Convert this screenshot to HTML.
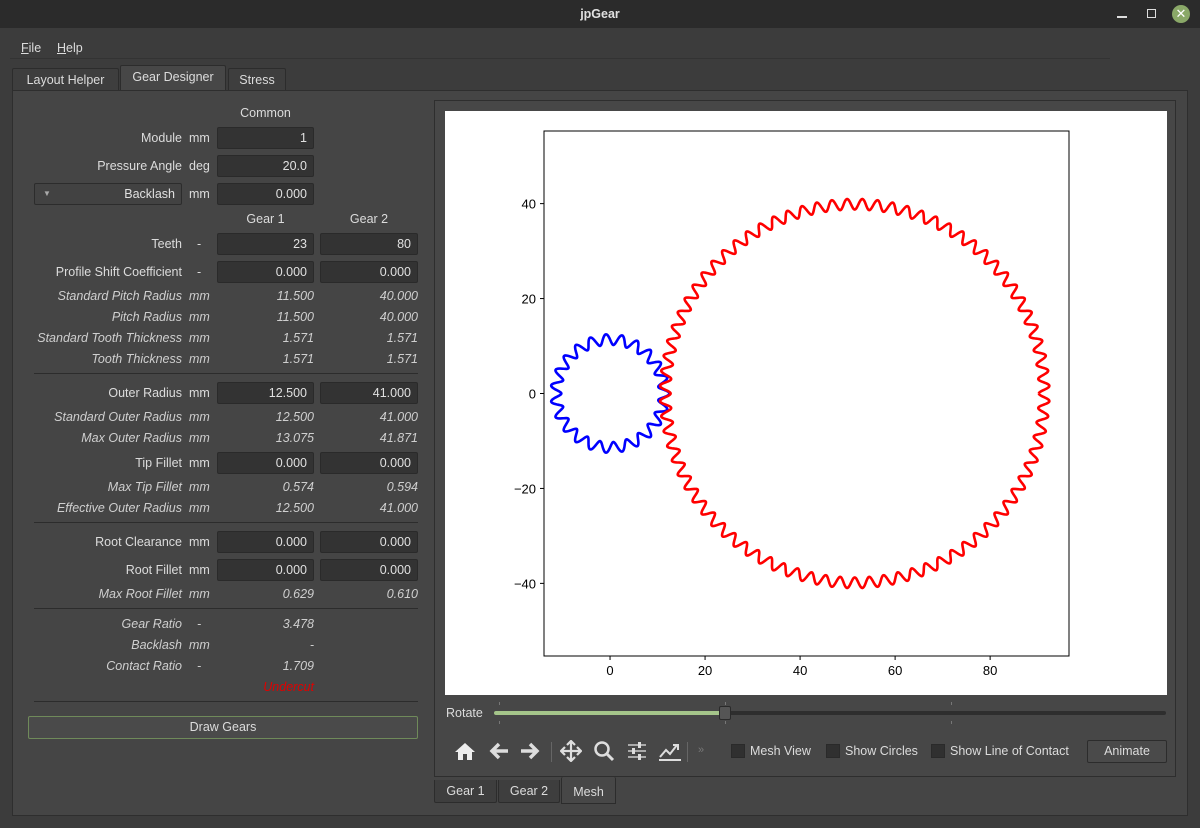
<!DOCTYPE html>
<html><head><meta charset="utf-8">
<style>
*{box-sizing:border-box;margin:0;padding:0}
body{width:1200px;height:828px;background:#3c3c3c;font-family:"Liberation Sans",sans-serif;font-size:12.5px;color:#dcdcdc;position:relative;overflow:hidden}
.a{position:absolute}
.lbl{position:absolute;text-align:right;width:182px;left:0;line-height:20px}
.it{font-style:italic;color:#cfcfcf}
.unit{position:absolute;left:189px;line-height:20px}
.inp{position:absolute;height:22px;background:#333;border:1px solid #2a2a2a;border-radius:2px;text-align:right;padding-right:6px;line-height:20px;color:#e0e0e0}
.val{position:absolute;text-align:right;line-height:20px}
.sep{position:absolute;left:34px;width:384px;height:1px;background:#2c2c2c}
.tab{position:absolute;border:1px solid #2c2c2c;border-bottom:none;background:#3e3e3e;text-align:center;line-height:22px;border-radius:2px 2px 0 0}
.cb{position:absolute;width:14px;height:14px;background:#303030;border:1px solid #2a2a2a}
</style></head><body>
<div class="a" style="left:0;top:0;width:1200px;height:28px;background:#2b2b2b;text-align:center;line-height:28px;font-weight:bold;color:#e0e0e0">jpGear</div>
<div class="a" style="left:1117px;top:16px;width:10px;height:1.5px;background:#ddd"></div>
<div class="a" style="left:1147px;top:9px;width:9px;height:9px;border:1.5px solid #ddd"></div>
<div class="a" style="left:1172px;top:5px;width:18px;height:18px;border-radius:50%;background:#8aa868;color:#fff;text-align:center;line-height:18px;font-size:13px">✕</div>
<div class="a" style="left:21px;top:40px;line-height:16px"><u>F</u>ile</div>
<div class="a" style="left:57px;top:40px;line-height:16px"><u>H</u>elp</div>
<div class="a" style="left:10px;top:58px;width:1100px;height:1px;background:#333"></div>
<div class="tab" style="left:12px;top:68px;width:107px">Layout Helper</div>
<div class="tab" style="left:120px;top:65px;width:106px;height:26px;background:#474747">Gear Designer</div>
<div class="tab" style="left:228px;top:68px;width:58px">Stress</div>
<div class="a" style="left:12px;top:90px;width:1176px;height:726px;background:#454545;border:1px solid #2e2e2e"></div>

<div class="a" style="left:0;top:0">
<div class="val" style="left:217px;width:97px;top:103px;text-align:center">Common</div>
<div class="lbl" style="top:128px">Module</div><div class="unit" style="top:128px">mm</div>
<div class="inp" style="left:217px;top:127px;width:97px">1</div>
<div class="lbl" style="top:156px">Pressure Angle</div><div class="unit" style="top:156px">deg</div>
<div class="inp" style="left:217px;top:155px;width:97px">20.0</div>
<div class="inp" style="left:34px;top:183px;width:148px;background:#424242;border-color:#2c2c2c"><span style="position:absolute;left:8px;font-size:8px;color:#aaa">▼</span>Backlash</div>
<div class="unit" style="top:184px">mm</div>
<div class="inp" style="left:217px;top:183px;width:97px">0.000</div>
<div class="val" style="left:217px;width:97px;top:209px;text-align:center">Gear 1</div>
<div class="val" style="left:320px;width:98px;top:209px;text-align:center">Gear 2</div>
<div class="lbl" style="top:234px">Teeth</div><div class="unit" style="top:234px;left:197px">-</div>
<div class="inp" style="left:217px;top:233px;width:97px">23</div>
<div class="inp" style="left:320px;top:233px;width:98px">80</div>
<div class="lbl" style="top:262px">Profile Shift Coefficient</div><div class="unit" style="top:262px;left:197px">-</div>
<div class="inp" style="left:217px;top:261px;width:97px">0.000</div>
<div class="inp" style="left:320px;top:261px;width:98px">0.000</div>
<div class="lbl it" style="top:286px">Standard Pitch Radius</div><div class="unit it" style="top:286px">mm</div>
<div class="val it" style="left:217px;width:97px;top:286px">11.500</div><div class="val it" style="left:320px;width:98px;top:286px">40.000</div>
<div class="lbl it" style="top:307px">Pitch Radius</div><div class="unit it" style="top:307px">mm</div>
<div class="val it" style="left:217px;width:97px;top:307px">11.500</div><div class="val it" style="left:320px;width:98px;top:307px">40.000</div>
<div class="lbl it" style="top:328px">Standard Tooth Thickness</div><div class="unit it" style="top:328px">mm</div>
<div class="val it" style="left:217px;width:97px;top:328px">1.571</div><div class="val it" style="left:320px;width:98px;top:328px">1.571</div>
<div class="lbl it" style="top:349px">Tooth Thickness</div><div class="unit it" style="top:349px">mm</div>
<div class="val it" style="left:217px;width:97px;top:349px">1.571</div><div class="val it" style="left:320px;width:98px;top:349px">1.571</div>
<div class="sep" style="top:373px"></div>
<div class="lbl" style="top:383px">Outer Radius</div><div class="unit" style="top:383px">mm</div>
<div class="inp" style="left:217px;top:382px;width:97px">12.500</div>
<div class="inp" style="left:320px;top:382px;width:98px">41.000</div>
<div class="lbl it" style="top:407px">Standard Outer Radius</div><div class="unit it" style="top:407px">mm</div>
<div class="val it" style="left:217px;width:97px;top:407px">12.500</div><div class="val it" style="left:320px;width:98px;top:407px">41.000</div>
<div class="lbl it" style="top:428px">Max Outer Radius</div><div class="unit it" style="top:428px">mm</div>
<div class="val it" style="left:217px;width:97px;top:428px">13.075</div><div class="val it" style="left:320px;width:98px;top:428px">41.871</div>
<div class="lbl" style="top:453px">Tip Fillet</div><div class="unit" style="top:453px">mm</div>
<div class="inp" style="left:217px;top:452px;width:97px">0.000</div>
<div class="inp" style="left:320px;top:452px;width:98px">0.000</div>
<div class="lbl it" style="top:477px">Max Tip Fillet</div><div class="unit it" style="top:477px">mm</div>
<div class="val it" style="left:217px;width:97px;top:477px">0.574</div><div class="val it" style="left:320px;width:98px;top:477px">0.594</div>
<div class="lbl it" style="top:498px">Effective Outer Radius</div><div class="unit it" style="top:498px">mm</div>
<div class="val it" style="left:217px;width:97px;top:498px">12.500</div><div class="val it" style="left:320px;width:98px;top:498px">41.000</div>
<div class="sep" style="top:522px"></div>
<div class="lbl" style="top:532px">Root Clearance</div><div class="unit" style="top:532px">mm</div>
<div class="inp" style="left:217px;top:531px;width:97px">0.000</div>
<div class="inp" style="left:320px;top:531px;width:98px">0.000</div>
<div class="lbl" style="top:560px">Root Fillet</div><div class="unit" style="top:560px">mm</div>
<div class="inp" style="left:217px;top:559px;width:97px">0.000</div>
<div class="inp" style="left:320px;top:559px;width:98px">0.000</div>
<div class="lbl it" style="top:584px">Max Root Fillet</div><div class="unit it" style="top:584px">mm</div>
<div class="val it" style="left:217px;width:97px;top:584px">0.629</div><div class="val it" style="left:320px;width:98px;top:584px">0.610</div>
<div class="sep" style="top:608px"></div>
<div class="lbl it" style="top:614px">Gear Ratio</div><div class="unit it" style="top:614px;left:197px">-</div>
<div class="val it" style="left:217px;width:97px;top:614px">3.478</div>
<div class="lbl it" style="top:635px">Backlash</div><div class="unit it" style="top:635px">mm</div>
<div class="val it" style="left:217px;width:97px;top:635px">-</div>
<div class="lbl it" style="top:656px">Contact Ratio</div><div class="unit it" style="top:656px;left:197px">-</div>
<div class="val it" style="left:217px;width:97px;top:656px">1.709</div>
<div class="val it" style="left:217px;width:97px;top:677px;color:#e00000">Undercut</div>
<div class="sep" style="top:701px"></div>
<div class="a" style="left:28px;top:716px;width:390px;height:23px;background:#4a4a4a;border:1px solid #6f8a5a;border-radius:2px;text-align:center;line-height:21px">Draw Gears</div>
</div>

<div class="a" style="left:434px;top:100px;width:742px;height:677px;background:#474747;border:1px solid #2e2e2e"></div>
<svg class="a" style="left:445px;top:111px" width="722" height="584" id="chart"></svg>

<div class="a" style="left:446px;top:705px;line-height:16px">Rotate</div>
<div class="a" style="left:494px;top:711px;width:672px;height:4px;background:#2e2e2e;border-radius:2px"></div>
<div class="a" style="left:494px;top:711px;width:230px;height:4px;background:#a5c58a;border-radius:2px"></div>
<div class="a" style="left:719px;top:706px;width:12px;height:14px;background:#555;border:1px solid #2a2a2a;border-radius:2px"></div>
<div class="a" style="left:499px;top:702px;width:1px;height:3px;background:#777"></div><div class="a" style="left:499px;top:721px;width:1px;height:3px;background:#777"></div>
<div class="a" style="left:725px;top:702px;width:1px;height:3px;background:#777"></div><div class="a" style="left:725px;top:721px;width:1px;height:3px;background:#777"></div>
<div class="a" style="left:951px;top:702px;width:1px;height:3px;background:#777"></div><div class="a" style="left:951px;top:721px;width:1px;height:3px;background:#777"></div>

<svg class="a" style="left:454px;top:741px" width="22" height="20"><path d="M11 2L1 11H4V19H9V13H13V19H18V11H21Z" fill="#eee"/></svg>
<svg class="a" style="left:488px;top:741px" width="22" height="20"><path d="M20 10H5M11 3L4 10L11 17" stroke="#ddd" stroke-width="3.5" fill="none"/></svg>
<svg class="a" style="left:519px;top:741px" width="22" height="20"><path d="M2 10H17M11 3L18 10L11 17" stroke="#ddd" stroke-width="3.5" fill="none"/></svg>
<div class="a" style="left:551px;top:742px;width:1px;height:20px;background:#666"></div>
<svg class="a" style="left:560px;top:740px" width="22" height="22"><path d="M11 1V21M1 11H21M7 5L11 1L15 5M7 17L11 21L15 17M5 7L1 11L5 15M17 7L21 11L17 15" stroke="#ddd" stroke-width="2.2" fill="none"/></svg>
<svg class="a" style="left:593px;top:740px" width="22" height="22"><circle cx="9" cy="9" r="6.5" stroke="#ddd" stroke-width="2.5" fill="none"/><path d="M13.5 13.5L20 20" stroke="#ddd" stroke-width="3"/></svg>
<svg class="a" style="left:626px;top:741px" width="22" height="20"><path d="M2 4H20M2 10H20M2 16H20" stroke="#ccc" stroke-width="1.5"/><rect x="12" y="1" width="3" height="6" fill="#ddd"/><rect x="6" y="7" width="3" height="6" fill="#ddd"/><rect x="12" y="13" width="3" height="6" fill="#ddd"/></svg>
<svg class="a" style="left:657px;top:740px" width="26" height="22"><path d="M2 20H24M3 17L9 10L13 14L20 5M16 5H21V10" stroke="#ddd" stroke-width="2" fill="none"/></svg>
<div class="a" style="left:687px;top:742px;width:1px;height:20px;background:#666"></div>
<div class="a" style="left:698px;top:744px;color:#777;font-size:11px">»</div>
<div class="cb" style="left:731px;top:744px"></div>
<div class="a" style="left:750px;top:743px;line-height:16px">Mesh View</div>
<div class="cb" style="left:826px;top:744px"></div>
<div class="a" style="left:845px;top:743px;line-height:16px">Show Circles</div>
<div class="cb" style="left:931px;top:744px"></div>
<div class="a" style="left:950px;top:743px;line-height:16px">Show Line of Contact</div>
<div class="a" style="left:1087px;top:740px;width:80px;height:23px;background:#4a4a4a;border:1px solid #2c2c2c;border-radius:2px;text-align:center;line-height:21px">Animate</div>

<div class="tab" style="left:434px;top:780px;width:63px;border-top:none;border-bottom:1px solid #2c2c2c;border-radius:0 0 2px 2px">Gear 1</div>
<div class="tab" style="left:498px;top:780px;width:62px;border-top:none;border-bottom:1px solid #2c2c2c;border-radius:0 0 2px 2px">Gear 2</div>
<div class="tab" style="left:561px;top:777px;width:55px;height:27px;background:#474747;border-top:none;border-bottom:1px solid #2c2c2c;line-height:30px">Mesh</div>

<script>
const teeth = [23, 80];
const pitchRadius = [11.5, 40];
const outerRadius = [12.5, 41];
const rootRadius = [10.25, 38.75];
const centerX = [0, 51.5];
const gearColors = ["#0000ff", "#ff0000"];
const xTicks = [0, 20, 40, 60, 80];
const yTicks = [-40, -20, 0, 20, 40];
const xDomain = [-13.9, 96.6];
const yDomain = [-55.3, 55.3];

const NS = "http://www.w3.org/2000/svg";
const svg = document.getElementById("chart");
const ox = 445, oy = 111;
const L = 544 - ox, R = 1069 - ox, T = 131 - oy, B = 656 - oy;
function sx(v) { return L + (v - xDomain[0]) / (xDomain[1] - xDomain[0]) * (R - L); }
function sy(v) { return B - (v - yDomain[0]) / (yDomain[1] - yDomain[0]) * (B - T); }
function mk(tag, attrs) { const e = document.createElementNS(NS, tag); for (const k in attrs) e.setAttribute(k, attrs[k]); svg.appendChild(e); return e; }

const bg = mk("rect", { x: 0, y: 0, width: 722, height: 584, fill: "#fff" });



for (let g = 0; g < teeth.length; g++) {
  const n = teeth[g], mean = (outerRadius[g] + rootRadius[g]) / 2, amp = (outerRadius[g] - rootRadius[g]) / 2;
  const phase = g === 1 ? Math.PI * (n % 2 === 0 ? 0 : 1) + Math.PI : 0;
  let d = "";
  const steps = n * 24;
  for (let i = 0; i <= steps; i++) {
    const t = i / steps * Math.PI * 2;
    const r = mean + amp * Math.cos(n * t + phase);
    const px = sx(centerX[g] + r * Math.cos(t)), py = sy(r * Math.sin(t));
    d += (i ? "L" : "M") + px.toFixed(2) + " " + py.toFixed(2);
  }
  const p = mk("path", { d: d, fill: "none", stroke: gearColors[g], "stroke-width": 2.6 });
  
  
}

const frame = mk("rect", { x: L, y: T, width: R - L, height: B - T, fill: "none", stroke: "#000", "stroke-width": 1 });



xTicks.forEach(v => {
  const x = sx(v);
  mk("line", { x1: x, x2: x, y1: B, y2: B + 4, stroke: "#000" });
  const t = mk("text", { x: x, y: B + 19, "text-anchor": "middle", "font-size": 13, fill: "#000", "font-family": "Liberation Sans, sans-serif" });
  t.textContent = v < 0 ? "−" + (-v) : v;
  
  
});
yTicks.forEach(v => {
  const y = sy(v);
  mk("line", { x1: L - 4, x2: L, y1: y, y2: y, stroke: "#000" });
  const t = mk("text", { x: L - 8, y: y + 5, "text-anchor": "end", "font-size": 13, fill: "#000", "font-family": "Liberation Sans, sans-serif" });
  t.textContent = v < 0 ? "−" + (-v) : v;
  
  
});
</script>
</body></html>
